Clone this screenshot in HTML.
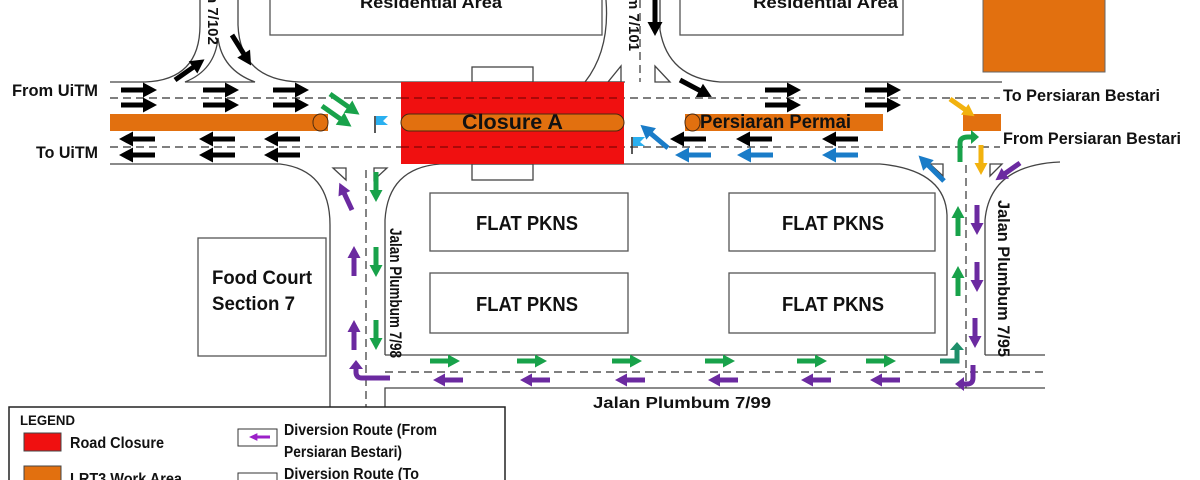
<!DOCTYPE html>
<html><head><meta charset="utf-8"><style>
html,body{margin:0;padding:0;background:#fff;}
svg{display:block;}
text{font-family:"Liberation Sans Narrow","Liberation Sans",sans-serif;font-weight:bold;fill:#111;}
</style></head><body>
<svg width="1200" height="480" viewBox="0 0 1200 480" xmlns="http://www.w3.org/2000/svg">
<defs>
<polygon id="a" points="0,-2.5 22,-2.5 22,-7.5 36,0 22,7.5 22,2.5 0,2.5"/>
<polygon id="s" points="0,-2.5 18,-2.5 18,-6.5 30,0 18,6.5 18,2.5 0,2.5"/>
</defs>
<g fill="none" stroke="#555" stroke-width="1.3">
<rect x="270" y="-2" width="332" height="37"/>
<rect x="680" y="-2" width="223" height="37"/>
<rect x="430" y="193" width="198" height="58"/>
<rect x="430" y="273" width="198" height="60"/>
<rect x="729" y="193" width="206" height="58"/>
<rect x="729" y="273" width="206" height="60"/>
<rect x="198" y="238" width="128" height="118"/>
</g>
<rect x="983" y="-2" width="122" height="74" fill="#e2700f" stroke="#666"/>
<g fill="none" stroke="#444" stroke-width="1.3">
<path d="M110 82 L145 82 Q200 80 200 25 L200 0"/>
<path d="M238 0 L238 25 Q240 80 300 82 L625 82"/>
<path d="M185 82 Q215 70 218 38 Q222 70 255 82 Z"/>
<path d="M606 0 Q610 50 585 82"/>
<path d="M660 0 L660 30 Q668 78 720 82 L1002 82"/>
<path d="M110 164 L280 164 Q330 170 330 225 L330 480"/>
<path d="M385 480 L385 388 L1045 388"/>
<path d="M385 355 L385 220 Q388 168 440 164 L880 164 Q945 170 947 215 L947 355 L385 355"/>
<path d="M985 355 L985 220 Q990 165 1060 162"/>
<path d="M985 355 L1045 355"/>
<path d="M333 168 L346 168 L346 180 Z"/>
<path d="M387 168 L374 168 L374 180 Z"/>
<path d="M621 66 L621 82 L608 82 Z"/>
<path d="M655 66 L655 82 L670 82 Z"/>
<path d="M930 164 L943 164 L943 176 Z"/>
<path d="M990 164 L1002 164 L990 176 Z"/>
<rect x="472" y="67" width="61" height="15"/>
<rect x="472" y="164" width="61" height="16"/>
</g>
<g fill="none" stroke="#333" stroke-width="1.2" stroke-dasharray="8,5">
<path d="M110 98 L1000 98"/>
<path d="M110 147 L1000 147"/>
<path d="M366 170 L366 480"/>
<path d="M640 0 L640 82"/>
<path d="M385 372 L1045 372"/>
<path d="M966 165 L966 388"/>
</g>
<rect x="401" y="82" width="223" height="82" fill="#f01010"/>
<path d="M401 98 L620 98 M401 147 L620 147" stroke="#600" stroke-dasharray="8,5"/>
<rect x="401" y="114" width="223" height="17" rx="8.5" fill="#e2700f" stroke="#4a2a10"/>
<rect x="110" y="114" width="218" height="17" fill="#e2700f"/>
<rect x="313" y="114" width="15" height="17" rx="8" fill="#e2700f" stroke="#4a2a10"/>
<rect x="685" y="114" width="198" height="17" fill="#e2700f"/>
<rect x="685" y="114" width="15" height="17" rx="8" fill="#e2700f" stroke="#4a2a10"/>
<rect x="963" y="114" width="38" height="17" fill="#e2700f"/>
<path d="M375 116 L375 133" stroke="#222" stroke-width="1.5"/>
<path d="M376 116 L388 116 L383 121 L388 125 L376 125 Z" fill="#2ab0f0"/>
<path d="M632 137 L632 154" stroke="#222" stroke-width="1.5"/>
<path d="M633 137 L645 137 L640 142 L645 146 L633 146 Z" fill="#2ab0f0"/>
<g fill="#000">
<use href="#a" transform="translate(121,90)"/><use href="#a" transform="translate(121,105)"/>
<use href="#a" transform="translate(203,90)"/><use href="#a" transform="translate(203,105)"/>
<use href="#a" transform="translate(273,90)"/><use href="#a" transform="translate(273,105)"/>
<use href="#a" transform="translate(765,90)"/><use href="#a" transform="translate(765,105)"/>
<use href="#a" transform="translate(865,90)"/><use href="#a" transform="translate(865,105)"/>
<use href="#a" transform="translate(155,139) rotate(180)"/><use href="#a" transform="translate(155,155) rotate(180)"/>
<use href="#a" transform="translate(235,139) rotate(180)"/><use href="#a" transform="translate(235,155) rotate(180)"/>
<use href="#a" transform="translate(300,139) rotate(180)"/><use href="#a" transform="translate(300,155) rotate(180)"/>
<use href="#a" transform="translate(706,139) rotate(180)"/>
<use href="#a" transform="translate(772,139) rotate(180)"/>
<use href="#a" transform="translate(858,139) rotate(180)"/>
<use href="#a" transform="translate(175,80) rotate(-35)"/>
<use href="#a" transform="translate(232,35) rotate(58)"/>
<use href="#a" transform="translate(680,80) rotate(28)"/>
<use href="#a" transform="translate(655,0) rotate(90)"/>
</g>
<g fill="#1a7cc8">
<use href="#a" transform="translate(711,155) rotate(180)"/>
<use href="#a" transform="translate(773,155) rotate(180)"/>
<use href="#a" transform="translate(858,155) rotate(180)"/>
<use href="#a" transform="translate(668,148) rotate(-140)"/>
<use href="#a" transform="translate(944,181) rotate(-135)"/>
</g>
<g fill="#18a24a">
<use href="#a" transform="translate(330,94) rotate(35)"/>
<use href="#a" transform="translate(322,106) rotate(35)"/>
<use href="#s" transform="translate(376,172) rotate(90)"/>
<use href="#s" transform="translate(376,247) rotate(90)"/>
<use href="#s" transform="translate(376,320) rotate(90)"/>
<use href="#s" transform="translate(430,361)"/><use href="#s" transform="translate(517,361)"/>
<use href="#s" transform="translate(612,361)"/><use href="#s" transform="translate(705,361)"/>
<use href="#s" transform="translate(797,361)"/><use href="#s" transform="translate(866,361)"/>
<use href="#s" transform="translate(958,236) rotate(-90)"/>
<use href="#s" transform="translate(958,296) rotate(-90)"/>
<path d="M940 361 L957 361 L957 350" fill="none" stroke="#1e8f6a" stroke-width="5"/>
<polygon points="950,350 964,350 957,342" fill="#1e8f6a"/>
<path d="M960 162 L960 143 Q960 137 968 137 L972 137" fill="none" stroke="#18a24a" stroke-width="5"/>
<polygon points="971,130 979,137 971,144"/>
</g>
<g fill="#6b2aa0">
<use href="#s" transform="translate(352,210) rotate(-115)"/>
<use href="#s" transform="translate(354,276) rotate(-90)"/>
<use href="#s" transform="translate(354,350) rotate(-90)"/>
<use href="#s" transform="translate(463,380) rotate(180)"/><use href="#s" transform="translate(550,380) rotate(180)"/>
<use href="#s" transform="translate(645,380) rotate(180)"/><use href="#s" transform="translate(738,380) rotate(180)"/>
<use href="#s" transform="translate(831,380) rotate(180)"/><use href="#s" transform="translate(900,380) rotate(180)"/>
<use href="#s" transform="translate(977,205) rotate(90)"/>
<use href="#s" transform="translate(977,262) rotate(90)"/>
<use href="#s" transform="translate(975,318) rotate(90)"/>
<use href="#s" transform="translate(1020,163) rotate(145)"/>
<path d="M390 378 L362 378 Q356 378 356 372 L356 368" fill="none" stroke="#6b2aa0" stroke-width="5"/>
<polygon points="349,369 363,369 356,360"/>
<path d="M973 365 L973 378 Q973 384 967 384 L963 384" fill="none" stroke="#6b2aa0" stroke-width="5"/>
<polygon points="964,377 964,391 955,384"/>
</g>
<g fill="#f2b20e">
<use href="#s" transform="translate(950,99) rotate(35)"/>
<use href="#s" transform="translate(981,145) rotate(90)"/>
</g>
<text x="12" y="96" font-size="17" textLength="86" lengthAdjust="spacingAndGlyphs">From UiTM</text>
<text x="36" y="158" font-size="17" textLength="62" lengthAdjust="spacingAndGlyphs">To UiTM</text>
<text x="1003" y="101" font-size="17" textLength="157" lengthAdjust="spacingAndGlyphs">To Persiaran Bestari</text>
<text x="1003" y="144" font-size="17" textLength="178" lengthAdjust="spacingAndGlyphs">From Persiaran Bestari</text>
<text x="462" y="129" font-size="21" textLength="101" lengthAdjust="spacingAndGlyphs">Closure A</text>
<text x="700" y="128" font-size="19" textLength="151" lengthAdjust="spacingAndGlyphs">Persiaran Permai</text>
<text x="360" y="8" font-size="17" textLength="142" lengthAdjust="spacingAndGlyphs">Residential Area</text>
<text x="753" y="8" font-size="17" textLength="145" lengthAdjust="spacingAndGlyphs">Residential Area</text>
<text x="476" y="230" font-size="20" textLength="102" lengthAdjust="spacingAndGlyphs">FLAT PKNS</text>
<text x="476" y="311" font-size="20" textLength="102" lengthAdjust="spacingAndGlyphs">FLAT PKNS</text>
<text x="782" y="230" font-size="20" textLength="102" lengthAdjust="spacingAndGlyphs">FLAT PKNS</text>
<text x="782" y="311" font-size="20" textLength="102" lengthAdjust="spacingAndGlyphs">FLAT PKNS</text>
<text x="212" y="284" font-size="19" textLength="100" lengthAdjust="spacingAndGlyphs">Food Court</text>
<text x="212" y="310" font-size="19" textLength="83" lengthAdjust="spacingAndGlyphs">Section 7</text>
<text x="593" y="408" font-size="16" textLength="178" lengthAdjust="spacingAndGlyphs">Jalan Plumbum 7/99</text>
<text transform="translate(390,228) rotate(90)" font-size="17" textLength="130" lengthAdjust="spacingAndGlyphs">Jalan Plumbum 7/98</text>
<text transform="translate(998,200) rotate(90)" font-size="17" textLength="157" lengthAdjust="spacingAndGlyphs">Jalan Plumbum 7/95</text>
<text transform="translate(208,-6) rotate(90)" font-size="15">n 7/102</text>
<text transform="translate(629,-4) rotate(90)" font-size="15">m 7/101</text>
<rect x="9" y="407" width="496" height="80" fill="#fff" stroke="#222" stroke-width="1.5"/>
<text x="20" y="425" font-size="14" textLength="55" lengthAdjust="spacingAndGlyphs">LEGEND</text>
<rect x="24" y="433" width="37" height="18" fill="#f01010" stroke="#444"/>
<text x="70" y="448" font-size="16" textLength="94" lengthAdjust="spacingAndGlyphs">Road Closure</text>
<rect x="24" y="466" width="37" height="18" fill="#e2700f" stroke="#444"/>
<text x="70" y="484" font-size="16" textLength="112" lengthAdjust="spacingAndGlyphs">LRT3 Work Area</text>
<rect x="238" y="429" width="39" height="17" fill="#fff" stroke="#333"/>
<use href="#s" transform="translate(270,437) rotate(180) scale(0.7,0.6)" fill="#9b20c8"/>
<text x="284" y="435" font-size="16" textLength="153" lengthAdjust="spacingAndGlyphs">Diversion Route (From</text>
<text x="284" y="457" font-size="16" textLength="118" lengthAdjust="spacingAndGlyphs">Persiaran Bestari)</text>
<rect x="238" y="473" width="39" height="17" fill="#fff" stroke="#333"/>
<text x="284" y="479" font-size="16" textLength="135" lengthAdjust="spacingAndGlyphs">Diversion Route (To</text>
</svg>
</body></html>
